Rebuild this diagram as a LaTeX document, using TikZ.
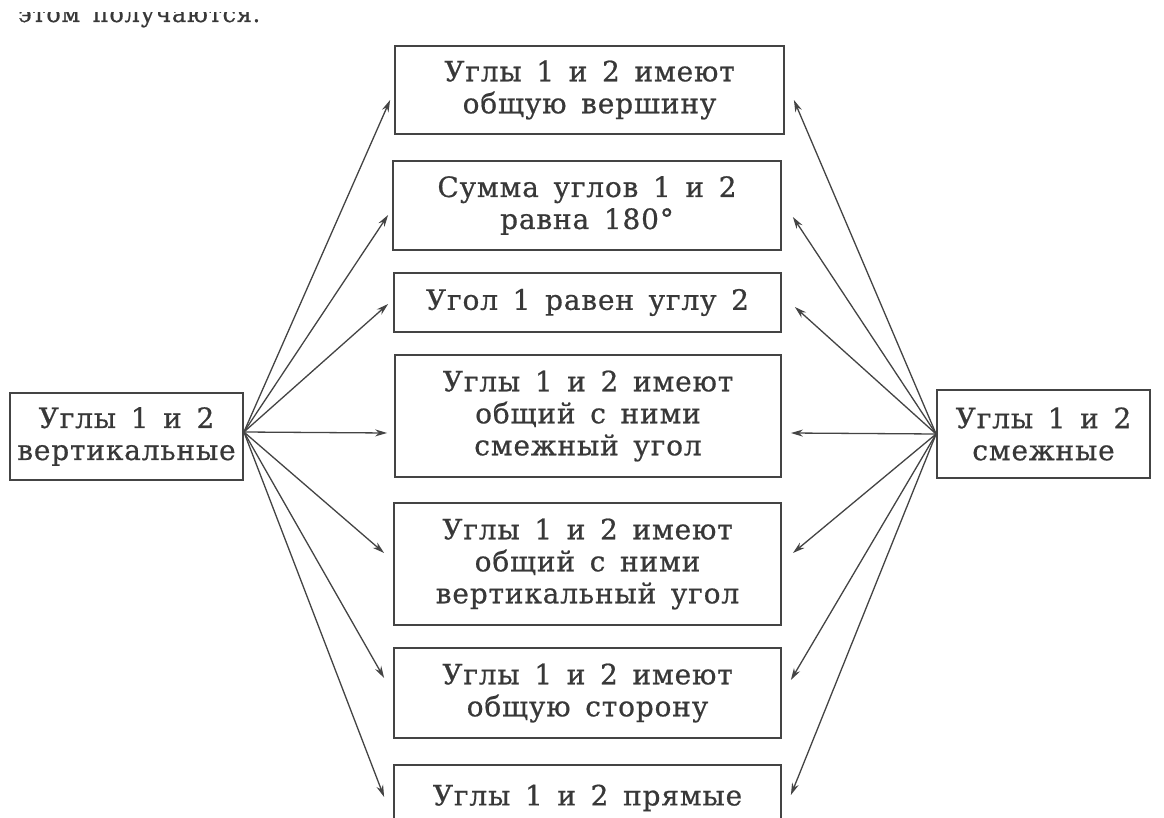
\documentclass[tikz,border=0pt]{standalone}
\usepackage{fontspec}
\setmainfont{DejaVu Serif}
\newfontfamily\boxfont[LetterSpace=3,WordSpace=1.5,FakeBold=0.6]{DejaVu Serif}
\usetikzlibrary{arrows.meta,calc}
\definecolor{ink}{HTML}{383838}
\definecolor{edge}{HTML}{444444}
\begin{document}
\begin{tikzpicture}[x=1pt,y=-1pt,
  box/.style={draw=edge,line width=1.8pt,inner sep=0pt,align=center,text=ink,
    font=\boxfont\fontsize{28}{32}\selectfont},
  arr/.style={draw=edge,line width=1.3pt,-{Stealth[length=12pt,width=7pt]}}]
\useasboundingbox (0,0) rectangle (1164,818);
\fill[white] (0,0) rectangle (1164,818);
\begin{scope}
\clip (0,13) rectangle (400,40);
\node[anchor=base west,inner sep=0pt,text=ink,font=\boxfont\fontsize{24}{28}\selectfont] (top) at (18,22) {этом получаются.};
\end{scope}
\node[box,minimum width=389pt,minimum height=88pt] (b1) at (589.5,90) {Углы 1 и 2 имеют\\общую вершину};
\node[box,minimum width=388pt,minimum height=89pt] (b2) at (587,205.5) {Сумма углов 1 и 2\\равна 180°};
\node[box,minimum width=387pt,minimum height=59pt] (b3) at (587.5,302.5) {Угол 1 равен углу 2};
\node[box,minimum width=386pt,minimum height=122pt] (b4) at (588,416) {Углы 1 и 2 имеют\\общий с ними\\смежный угол};
\node[box,minimum width=387pt,minimum height=122pt] (b5) at (587.5,564) {Углы 1 и 2 имеют\\общий с ними\\вертикальный угол};
\node[box,minimum width=387pt,minimum height=90pt] (b6) at (587.5,693) {Углы 1 и 2 имеют\\общую сторону};
\node[box,minimum width=387pt,minimum height=60pt,text depth=0pt] (b7) at (587.5,795) {Углы 1 и 2 прямые};
\node[box,minimum width=233pt,minimum height=87pt] (L) at (126.5,436.5) {Углы 1 и 2\\вертикальные};
\node[box,minimum width=213pt,minimum height=88pt] (R) at (1043.5,434) {Углы 1 и 2\\смежные};
\coordinate (ls) at ($(L.east)+(0,-4.5)$);
\coordinate (rs) at (R.west);
\draw[arr] (ls) -- ([xshift=-4pt,yshift=-10pt]b1.west);
\draw[arr] (ls) -- ([xshift=-4pt,yshift=-9.5pt]b2.west);
\draw[arr] (ls) -- ([xshift=-5pt,yshift=-1.5pt]b3.west);
\draw[arr] (ls) -- ([xshift=-7pt,yshift=-17pt]b4.west);
\draw[arr] (ls) -- ([xshift=-9pt,yshift=11pt]b5.west);
\draw[arr] (ls) -- ([xshift=-9pt,yshift=15pt]b6.west);
\draw[arr] (ls) -- ([xshift=-9pt,yshift=-2pt]b7.west);
\draw[arr] (rs) -- ([xshift=9pt,yshift=-10pt]b1.east);
\draw[arr] (rs) -- ([xshift=11pt,yshift=-11.5pt]b2.east);
\draw[arr] (rs) -- ([xshift=13pt,yshift=-4.5pt]b3.east);
\draw[arr] (rs) -- ([xshift=9pt,yshift=-17pt]b4.east);
\draw[arr] (rs) -- ([xshift=11pt,yshift=11pt]b5.east);
\draw[arr] (rs) -- ([xshift=9pt,yshift=13pt]b6.east);
\draw[arr] (rs) -- ([xshift=9pt,yshift=0pt]b7.east);
\end{tikzpicture}
\end{document}
